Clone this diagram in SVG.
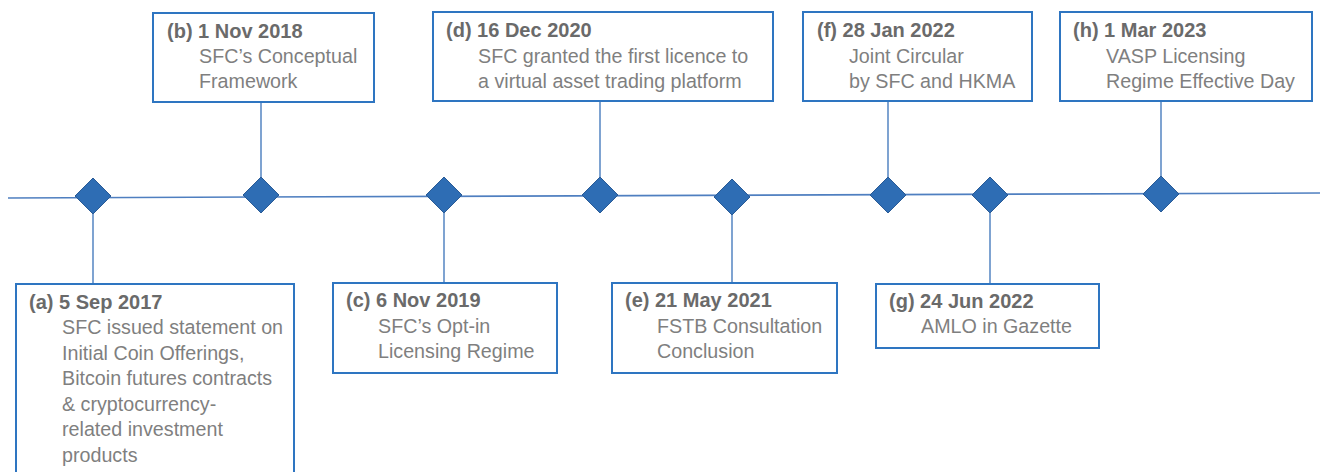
<svg xmlns="http://www.w3.org/2000/svg" width="1320" height="472" viewBox="0 0 1320 472">
  <style>
    .box { fill: #ffffff; stroke: #2e75c1; stroke-width: 2; }
    .lnk { stroke: #3a72b8; stroke-width: 1.3; fill: none; }
    .axis { stroke: #4f7fc0; stroke-width: 1.6; fill: none; }
    .dia { fill: #2e6db4; stroke: #2a5b96; stroke-width: 1; }
    .t { font-family: "Liberation Sans", Arial, sans-serif; font-size: 19.7px; }
    .hd { fill: #6a6a6a; font-weight: bold; font-size: 20px; }
    .bd { fill: #7f7f7f; }
  </style>

  <!-- timeline axis and stems -->
  <g id="connectors">
    <line class="axis" x1="8" y1="198" x2="1320" y2="193"/>
    <line class="lnk" x1="93" y1="214" x2="93" y2="284"/>
    <line class="lnk" x1="261" y1="102" x2="261" y2="177"/>
    <line class="lnk" x1="444" y1="213" x2="444" y2="283"/>
    <line class="lnk" x1="600" y1="101" x2="600" y2="177"/>
    <line class="lnk" x1="732" y1="215" x2="732" y2="283"/>
    <line class="lnk" x1="888" y1="101" x2="888" y2="177"/>
    <line class="lnk" x1="990" y1="213" x2="990" y2="284"/>
    <line class="lnk" x1="1161" y1="101" x2="1161" y2="176"/>
  </g>

  <!-- milestone markers -->
  <g id="markers">
    <polygon class="dia" points="93,178 111,196 93,214 75,196"/>
    <polygon class="dia" points="261,177 279,195 261,213 243,195"/>
    <polygon class="dia" points="444,177 462,195 444,213 426,195"/>
    <polygon class="dia" points="600,177 618,195 600,213 582,195"/>
    <polygon class="dia" points="732,179 750,197 732,215 714,197"/>
    <polygon class="dia" points="888,177 906,195 888,213 870,195"/>
    <polygon class="dia" points="990,177 1008,195 990,213 972,195"/>
    <polygon class="dia" points="1161,176 1179,194 1161,212 1143,194"/>
  </g>

  <g id="node-a">
    <rect class="box" x="16" y="284" width="278" height="200"/>
    <text class="t hd" x="29" y="309">(a) 5 Sep 2017</text>
    <text class="t bd" x="62" y="334">SFC issued statement on</text>
    <text class="t bd" x="62" y="359.5">Initial Coin Offerings,</text>
    <text class="t bd" x="62" y="385">Bitcoin futures contracts</text>
    <text class="t bd" x="62" y="410.5">&amp; cryptocurrency-</text>
    <text class="t bd" x="62" y="436">related investment</text>
    <text class="t bd" x="62" y="461.5">products</text>
  </g>

  <g id="node-b">
    <rect class="box" x="153" y="13" width="221" height="89"/>
    <text class="t hd" x="167" y="38">(b) 1 Nov 2018</text>
    <text class="t bd" x="199" y="63">SFC’s Conceptual</text>
    <text class="t bd" x="199" y="88">Framework</text>
  </g>

  <g id="node-c">
    <rect class="box" x="333" y="283" width="224" height="90"/>
    <text class="t hd" x="346" y="307">(c) 6 Nov 2019</text>
    <text class="t bd" x="378" y="333">SFC’s Opt-in</text>
    <text class="t bd" x="378" y="358">Licensing Regime</text>
  </g>

  <g id="node-d">
    <rect class="box" x="433" y="12" width="340" height="89"/>
    <text class="t hd" x="446" y="37">(d) 16 Dec 2020</text>
    <text class="t bd" x="478" y="63">SFC granted the first licence to</text>
    <text class="t bd" x="478" y="88">a virtual asset trading platform</text>
  </g>

  <g id="node-e">
    <rect class="box" x="612" y="283" width="225" height="90"/>
    <text class="t hd" x="625" y="307">(e) 21 May 2021</text>
    <text class="t bd" x="657" y="333">FSTB Consultation</text>
    <text class="t bd" x="657" y="358">Conclusion</text>
  </g>

  <g id="node-f">
    <rect class="box" x="803" y="12" width="229" height="89"/>
    <text class="t hd" x="817" y="37">(f) 28 Jan 2022</text>
    <text class="t bd" x="849" y="63">Joint Circular</text>
    <text class="t bd" x="849" y="88">by SFC and HKMA</text>
  </g>

  <g id="node-g">
    <rect class="box" x="876" y="284" width="223" height="64"/>
    <text class="t hd" x="889" y="308">(g) 24 Jun 2022</text>
    <text class="t bd" x="921" y="333">AMLO in Gazette</text>
  </g>

  <g id="node-h">
    <rect class="box" x="1060" y="12" width="252" height="89"/>
    <text class="t hd" x="1073" y="37">(h) 1 Mar 2023</text>
    <text class="t bd" x="1106" y="63">VASP Licensing</text>
    <text class="t bd" x="1106" y="88">Regime Effective Day</text>
  </g>
</svg>
